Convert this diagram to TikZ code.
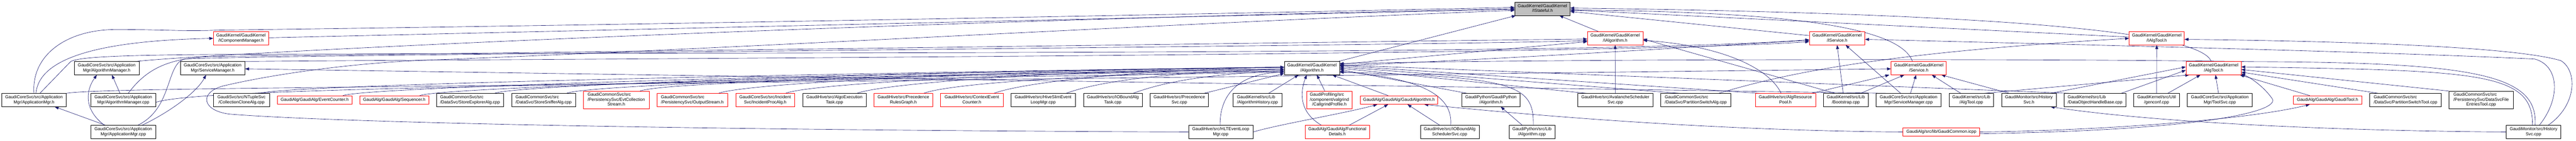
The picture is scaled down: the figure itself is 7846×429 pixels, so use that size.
\documentclass[tikz,border=0pt]{standalone}
\usepackage{fontspec}
\setmainfont{Liberation Sans}
\usetikzlibrary{arrows.meta}
\definecolor{edgec}{HTML}{191970}
\definecolor{boxgray}{HTML}{BFBFBF}
\newcommand{\twol}[2]{\begin{tabular}{@{}l@{}}#1\\\multicolumn{1}{@{}c@{}}{#2}\end{tabular}}
\newcommand{\threel}[3]{\begin{tabular}{@{}l@{}}#1\\#2\\\multicolumn{1}{@{}c@{}}{#3}\end{tabular}}
\newcommand{\gnode}[7]{\node[#2, minimum width={(#4-#3)*1pt}, minimum height={(#6-#5)*1pt}] (#1) at ({(#3+#4)/2},{(#5+#6)/2}) {#7};}
\pgfdeclarelayer{bg}
\pgfsetlayers{bg,main}
\tikzset{
  nbox/.style={draw=black, fill=white, line width=1pt, inner xsep=3pt, inner ysep=0pt, font=\fontsize{13.2}{15}\selectfont},
  rbox/.style={nbox, draw=red},
  gbox/.style={nbox, fill=boxgray},
  e/.style={draw=edgec, line width=1pt, -{Triangle[length=12pt,width=9pt]}},
}
\begin{document}
\begin{tikzpicture}[x=1pt,y=-1pt]
\useasboundingbox (0,0) rectangle (7846,429);
% row 0
\gnode{n_isf}{gbox}{4614}{4782}{6}{47}{\twol{GaudiKernel/GaudiKernel}{/IStateful.h}}
% row 1
\gnode{n_icm}{rbox}{650}{818}{97}{137}{\twol{GaudiKernel/GaudiKernel}{/IComponentManager.h}}
\gnode{n_ialg}{rbox}{4835}{5004}{97}{137}{\twol{GaudiKernel/GaudiKernel}{/IAlgorithm.h}}
\gnode{n_isvc}{rbox}{5511}{5680}{97}{137}{\twol{GaudiKernel/GaudiKernel}{/IService.h}}
\gnode{n_iat}{rbox}{6485}{6653}{97}{137}{\twol{GaudiKernel/GaudiKernel}{/IAlgTool.h}}
% row 2
\gnode{n_amh}{nbox}{226}{424}{188}{228}{\twol{GaudiCoreSvc/src/Application}{Mgr/AlgorithmManager.h}}
\gnode{n_smh}{nbox}{549}{746}{188}{228}{\twol{GaudiCoreSvc/src/Application}{Mgr/ServiceManager.h}}
\gnode{n_alg}{nbox}{3912}{4080}{188}{228}{\twol{GaudiKernel/GaudiKernel}{/Algorithm.h}}
\gnode{n_svc}{rbox}{5760}{5928}{188}{228}{\twol{GaudiKernel/GaudiKernel}{/Service.h}}
\gnode{n_at}{rbox}{6658}{6826}{188}{228}{\twol{GaudiKernel/GaudiKernel}{/AlgTool.h}}
% row 3
\gnode{n_apph}{nbox}{5}{202}{285}{325}{\twol{GaudiCoreSvc/src/Application}{Mgr/ApplicationMgr.h}}
\gnode{n_amc}{nbox}{277}{474}{285}{325}{\twol{GaudiCoreSvc/src/Application}{Mgr/AlgorithmManager.cpp}}
\gnode{n_cca}{nbox}{650}{821}{285}{325}{\twol{GaudiSvc/src/NTupleSvc}{/CollectionCloneAlg.cpp}}
\gnode{n_ec}{rbox}{845}{1072}{292}{318}{GaudiAlg/GaudiAlg/EventCounter.h}
\gnode{n_seq}{rbox}{1096}{1306}{292}{318}{GaudiAlg/GaudiAlg/Sequencer.h}
\gnode{n_sea}{nbox}{1329}{1534}{285}{325}{\twol{GaudiCommonSvc/src}{/DataSvc/StoreExplorerAlg.cpp}}
\gnode{n_ssa}{nbox}{1558}{1753}{285}{325}{\twol{GaudiCommonSvc/src}{/DataSvc/StoreSnifferAlg.cpp}}
\gnode{n_ecs}{rbox}{1777}{1977}{278}{332}{\threel{GaudiCommonSvc/src}{/PersistencySvc/EvtCollection}{Stream.h}}
\gnode{n_os}{rbox}{2001}{2216}{285}{325}{\twol{GaudiCommonSvc/src}{/PersistencySvc/OutputStream.h}}
\gnode{n_ipa}{rbox}{2241}{2420}{285}{325}{\twol{GaudiCoreSvc/src/Incident}{Svc/IncidentProcAlg.h}}
\gnode{n_aet}{nbox}{2445}{2638}{285}{325}{\twol{GaudiHive/src/AlgoExecution}{Task.cpp}}
\gnode{n_prg}{rbox}{2662}{2841}{285}{325}{\twol{GaudiHive/src/Precedence}{RulesGraph.h}}
\gnode{n_cec}{rbox}{2865}{3055}{285}{325}{\twol{GaudiHive/src/ContextEvent}{Counter.h}}
\gnode{n_hse}{nbox}{3079}{3275}{285}{325}{\twol{GaudiHive/src/HiveSlimEvent}{LoopMgr.cpp}}
\gnode{n_iobt}{nbox}{3300}{3479}{285}{325}{\twol{GaudiHive/src/IOBoundAlg}{Task.cpp}}
\gnode{n_psvc}{nbox}{3503}{3681}{285}{325}{\twol{GaudiHive/src/Precedence}{Svc.cpp}}
\gnode{n_ahist}{nbox}{3756}{3904}{285}{325}{\twol{GaudiKernel/src/Lib}{/AlgorithmHistory.cpp}}
\gnode{n_cgp}{rbox}{3980}{4118}{278}{332}{\threel{GaudiProfiling/src}{/component/valgrind}{/CallgrindProfile.h}}
\gnode{n_galg}{rbox}{4143}{4379}{292}{318}{GaudiAlg/GaudiAlg/GaudiAlgorithm.h}
\gnode{n_gpah}{nbox}{4453}{4629}{285}{325}{\twol{GaudiPython/GaudiPython}{/Algorithm.h}}
\gnode{n_ass}{nbox}{4806}{5034}{285}{325}{\twol{GaudiHive/src/AvalancheScheduler}{Svc.cpp}}
\gnode{n_psa}{nbox}{5058}{5272}{285}{325}{\twol{GaudiCommonSvc/src}{/DataSvc/PartitionSwitchAlg.cpp}}
\gnode{n_arp}{rbox}{5346}{5530}{285}{325}{\twol{GaudiHive/src/AlgResource}{Pool.h}}
\gnode{n_boot}{nbox}{5554}{5690}{285}{325}{\twol{GaudiKernel/src/Lib}{/Bootstrap.cpp}}
\gnode{n_smc}{nbox}{5714}{5912}{285}{325}{\twol{GaudiCoreSvc/src/Application}{Mgr/ServiceManager.cpp}}
\gnode{n_atc}{nbox}{5936}{6072}{285}{325}{\twol{GaudiKernel/src/Lib}{/AlgTool.cpp}}
\gnode{n_hsh}{nbox}{6096}{6263}{285}{325}{\twol{GaudiMonitor/src/History}{Svc.h}}
\gnode{n_dohb}{nbox}{6287}{6475}{285}{325}{\twol{GaudiKernel/src/Lib}{/DataObjectHandleBase.cpp}}
\gnode{n_genc}{nbox}{6499}{6638}{285}{325}{\twol{GaudiKernel/src/Util}{/genconf.cpp}}
\gnode{n_tsvc}{nbox}{6662}{6860}{285}{325}{\twol{GaudiCoreSvc/src/Application}{Mgr/ToolSvc.cpp}}
\gnode{n_gt}{rbox}{6985}{7193}{292}{318}{GaudiAlg/GaudiAlg/GaudiTool.h}
\gnode{n_pst}{nbox}{7217}{7436}{285}{325}{\twol{GaudiCommonSvc/src}{/DataSvc/PartitionSwitchTool.cpp}}
\gnode{n_dsfe}{nbox}{7459}{7655}{278}{332}{\threel{GaudiCommonSvc/src}{/PersistencySvc/DataSvcFile}{EntriesTool.cpp}}
% row 4
\gnode{n_appc}{nbox}{277}{474}{382}{423}{\twol{GaudiCoreSvc/src/Application}{Mgr/ApplicationMgr.cpp}}
\gnode{n_hlt}{nbox}{3620}{3816}{382}{423}{\twol{GaudiHive/src/HLTEventLoop}{Mgr.cpp}}
\gnode{n_fd}{rbox}{3975}{4171}{382}{423}{\twol{GaudiAlg/GaudiAlg/Functional}{Details.h}}
\gnode{n_iobs}{nbox}{4326}{4505}{382}{423}{\twol{GaudiHive/src/IOBoundAlg}{SchedulerSvc.cpp}}
\gnode{n_gpac}{nbox}{4596}{4736}{382}{423}{\twol{GaudiPython/src/Lib}{/Algorithm.cpp}}
\gnode{n_gci}{rbox}{5796}{6030}{390}{415}{GaudiAlg/src/lib/GaudiCommon.icpp}
\gnode{n_hsc}{nbox}{7633}{7800}{382}{423}{\twol{GaudiMonitor/src/History}{Svc.cpp}}

\begin{pgfonlayer}{bg}
\fill[white] (0,0) rectangle (7846,429);
% ---- to IStateful.h
\draw[e] (n_icm) -- (n_isf);
\draw[e] (n_ialg) -- (n_isf);
\draw[e] (n_isvc) -- (n_isf);
\draw[e] (n_iat) -- (n_isf);
\draw[e] (n_alg) -- (n_isf);
\draw[e] ([xshift=-19pt]n_svc.north) .. controls (5790,90) and (5500,36) .. ([yshift=-4pt]n_isf.east);
\draw[e] ([xshift=-7pt]n_at.north) .. controls (6700,90) and (6000,40) .. ([yshift=2pt]n_isf.east);
\draw[e] (n_apph.north) .. controls (95,170) and (200,90) .. (354,90) .. controls (500,90) and (560,96) .. (660,92) .. controls (2200,72) and (3800,40) .. ([yshift=4pt]n_isf.west);
\draw[e] ([xshift=-12pt]n_amh.north east) .. controls (600,165) and (2500,70) .. (n_isf.west);
\draw[e] (n_hlt.west) .. controls (2000,396) and (1000,372) .. (700,348) .. controls (615,338) and (605,282) .. (680,262) .. controls (850,222) and (1100,190) .. (1310,183) .. controls (2300,145) and (3600,70) .. ([yshift=-5pt]n_isf.west);
% ---- ApplicationMgr / managers
\draw[e] ([xshift=6pt]n_apph.north) .. controls (118,190) and (260,125) .. (n_icm.west);
\draw[e] ([xshift=18pt]n_apph.north) -- (215,188) .. controls (240,172) and (400,168) .. (660,166) .. controls (2500,158) and (4900,168) .. ([yshift=-4pt]n_isvc.west);
\draw[e] (n_apph.north east) .. controls (240,278) and (400,274) .. (700,270) -- ([yshift=-2pt]n_svc.west);
\draw[e] ([xshift=15pt]n_amc.north) .. controls (450,205) and (520,175) .. (660,172) .. controls (2500,150) and (4300,125) .. ([yshift=-2pt]n_ialg.west);
\draw[e] ([xshift=45pt]n_appc.north) .. controls (525,330) and (505,200) .. (560,180) .. controls (700,168) and (4300,140) .. ([yshift=-7pt]n_ialg.west);
\draw[e] ([xshift=-10pt]n_smh.north east) .. controls (1500,180) and (4900,170) .. ([yshift=-10pt]n_isvc.west);
\draw[e] ([yshift=8pt]n_alg.east) .. controls (4600,180) and (5200,140) .. ([yshift=-6pt]n_isvc.west);
\draw[e] ([yshift=12pt]n_alg.east) -- ([yshift=-10pt]n_ialg.west);
\draw[e] ([xshift=-55pt]n_appc.north) -- ([xshift=63pt]n_apph.south);
\draw[e] ([xshift=-58pt]n_appc.north) .. controls (250,330) and (265,270) .. ([xshift=-30pt]n_amh.south);
\draw[e] ([xshift=58pt]n_appc.north) .. controls (520,340) and (600,280) .. ([xshift=-20pt]n_smh.south);
\draw[e] ([xshift=-10pt]n_amc.north) -- ([xshift=16pt]n_amh.south);
\draw[e] ([yshift=-7pt]n_amc.east) .. controls (600,272) and (1500,262) .. ([yshift=-12pt]n_alg.west);
\draw[e] ([xshift=-70pt]n_smc.north) -- ([yshift=-2pt]n_smh.east);
% ---- leaves to Algorithm.h (west)
\foreach \s/\dy/\c in {cca/3/900, ec/3/900, seq/-3/900, sea/3/900, ssa/-3/900, ecs/-8/900, os/3/900, ipa/-3/800, aet/3/700, prg/-8/600, cec/3/500, hse/-3/400, iobt/-8/250}
  \draw[e] ([xshift=-28pt]n_\s.north east) .. controls +(80,-30) and +(-\c,10) .. ([yshift=\dy pt]n_alg.west);
\draw[e] ([xshift=-2pt]n_hlt.north) .. controls (3715,300) and (3760,225) .. ([yshift=-12pt]n_alg.west);
\draw[e] ([xshift=-14pt]n_psvc.north east) -- ([yshift=-16pt]n_alg.west);
\draw[e] ([xshift=34pt]n_ahist.north) -- ([xshift=-41pt]n_alg.south);
\draw[e] ([xshift=-14pt]n_cgp.north) -- ([xshift=15pt]n_alg.south);
\draw[e] ([xshift=-33pt]n_galg.north) -- ([xshift=62pt]n_alg.south);
\draw[e] ([xshift=-49pt]n_fd.north) .. controls (3955,340) and (3960,280) .. ([xshift=-16pt]n_alg.south);
\draw[e] ([xshift=37pt]n_fd.north) -- ([xshift=-33pt]n_galg.south);
\draw[e] ([xshift=-31pt]n_iobs.north) -- ([xshift=26pt]n_galg.south);
\draw[e] ([xshift=3pt]n_iobs.north) .. controls (4425,300) and (4350,240) .. ([yshift=-10pt]n_alg.east);
\draw[e] (n_hlt.east) .. controls (3900,378) and (4100,345) .. ([xshift=-66pt]n_galg.south);
\draw[e] (n_gci.west) .. controls (5200,398) and (4650,350) .. ([xshift=77pt]n_galg.south);
% ---- to Algorithm.h (east) and interfaces
\draw[e] ([xshift=-73pt]n_gpah.north) -- ([yshift=-4pt]n_alg.east);
\draw[e] ([xshift=-30pt]n_gpac.north) -- ([xshift=30pt]n_gpah.south);
\draw[e] ([xshift=4pt]n_gpac.north) .. controls (4672,260) and (4620,235) .. ([yshift=-12pt]n_alg.east);
\draw[e] ([xshift=-88pt]n_ass.north) -- (n_alg.east);
\draw[e] (n_ass.north) -- (n_ialg.south);
\draw[e] ([xshift=-50pt]n_psa.north) -- ([yshift=4pt]n_alg.east);
\draw[e] ([xshift=70pt]n_psa.north) .. controls (5450,220) and (5750,160) .. (n_iat.west);
\draw[e] ([xshift=-13pt]n_arp.north) .. controls (5390,210) and (5250,140) .. ([yshift=-6pt]n_ialg.east);
\draw[e] ([xshift=80pt]n_arp.north) -- ([xshift=-5pt]n_svc.south west);
\draw[e] ([xshift=-80pt]n_arp.north) -- ([yshift=8pt]n_alg.east);
\draw[e] ([xshift=-8pt]n_boot.north) -- (n_isvc.south);
\draw[e] ([xshift=45pt]n_boot.north) -- ([xshift=-44pt]n_svc.south);
\draw[e] ([xshift=-33pt]n_boot.north) -- ([yshift=-2pt]n_ialg.east);
\draw[e] ([xshift=-24pt]n_smc.north) -- ([xshift=26pt]n_isvc.south);
\draw[e] ([xshift=6pt]n_smc.north) -- ([xshift=-8pt]n_svc.south);
\draw[e] ([xshift=-32pt]n_atc.north) -- ([xshift=40pt]n_svc.south);
\draw[e] ([xshift=40pt]n_atc.north) -- ([xshift=-74pt]n_at.south);
\draw[e] ([xshift=-60pt]n_hsh.north) -- ([xshift=69pt]n_svc.south);
\draw[e] ([xshift=66pt]n_hsh.north) -- ([yshift=4pt]n_at.west);
\draw[e] ([xshift=80pt]n_dohb.north) -- ([yshift=-6pt]n_at.west);
\draw[e] ([xshift=-80pt]n_dohb.north) -- ([yshift=10pt]n_alg.east);
\draw[e] (n_genc.north) -- (n_iat.south);
\draw[e] ([xshift=34pt]n_genc.north) -- ([xshift=-40pt]n_at.south);
\draw[e] ([xshift=-4pt]n_tsvc.north) -- ([xshift=6pt]n_at.south);
\draw[e] ([xshift=-54pt]n_gt.north) -- ([xshift=-4pt]n_at.south east);
\draw[e] ([xshift=-83pt]n_pst.north) -- ([yshift=-12pt]n_at.east);
\draw[e] (n_dsfe.north west) -- ([yshift=-4pt]n_at.east);
\draw[e] (n_gci.east) .. controls (6400,398) and (6850,365) .. ([xshift=-54pt]n_gt.south);
\draw[e] ([yshift=-5pt]n_gci.east) .. controls (6700,398) and (6950,340) .. (6920,300) .. controls (6895,265) and (6860,240) .. ([yshift=4pt]n_at.south east);
% ---- HistorySvc.cpp
\draw[e] (n_hsc.west) .. controls (7000,398) and (6500,365) .. ([xshift=66pt]n_hsh.south);
\draw[e] ([xshift=-3pt]n_hsc.north) .. controls (7715,220) and (7550,215) .. ([yshift=4pt]n_at.east);
\draw[e] ([xshift=5pt]n_hsc.north) .. controls (7730,230) and (7550,190) .. (6860,188) .. controls (6200,178) and (4700,180) .. ([yshift=14pt]n_alg.east);
\draw[e] ([xshift=18pt]n_hsc.north) .. controls (7800,300) and (7795,200) .. (7720,180) .. controls (7300,160) and (6500,140) .. ([yshift=-3pt]n_isvc.east);
\draw[e] ([xshift=45pt]n_hsc.north) .. controls (7850,320) and (7850,215) .. (7800,185) .. controls (7650,140) and (7100,125) .. ([yshift=-3pt]n_iat.east);
\end{pgfonlayer}
\end{tikzpicture}
\end{document}
